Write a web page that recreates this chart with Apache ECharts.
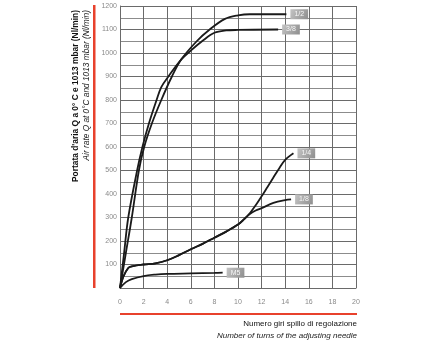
<!DOCTYPE html>
<html><head><meta charset="utf-8">
<script src="https://cdn.jsdelivr.net/npm/echarts@6/dist/echarts.min.js"></script>
<style>html,body{margin:0;padding:0;background:#fff}#c{width:441px;height:345px}</style>
</head><body><div id="c"></div>
<script>
// Tick labels
const xTicks = [0, 2, 4, 6, 8, 10, 12, 14, 16, 18, 20];
const yTicks = [100, 200, 300, 400, 500, 600, 700, 800, 900, 1000, 1100, 1200];

// Series: turns (x) and air rate Q (y)
const seriesNames = ['1/2', '3/8', '1/4', '1/8', 'M5'];

const turnsHalf = [0, 0.5, 1.0, 1.6, 2.05, 2.7, 3.5, 4.4, 5.2, 6.5, 7.6, 8.9, 10, 11, 14.1];
const qHalf     = [0, 150, 300, 500, 600, 700, 800, 900, 973, 1050, 1100, 1145, 1160, 1165, 1165];

const turns38 = [0, 0.35, 0.7, 1.45, 1.9, 2.45, 3.1, 3.5, 4.1, 5.2, 6.0, 7, 8, 9, 10, 13.4];
const q38     = [0, 150, 300, 500, 600, 700, 800, 855, 900, 973, 1010, 1052, 1086, 1096, 1098, 1100];

const turnsQuarter = [0, 0.3, 0.7, 1, 2, 3, 4, 5, 6, 7, 8, 9, 10, 10.5, 11, 11.5, 12, 12.5, 13, 13.5, 14, 14.7];
const qQuarter     = [0, 50, 85, 92, 100, 105, 118, 140, 165, 188, 214, 240, 270, 292, 318, 352, 390, 430, 470, 510, 545, 573];

const turnsEighth = [0, 0.3, 0.7, 1, 2, 3, 4, 5, 6, 7, 8, 9, 10, 10.5, 11, 11.5, 12, 13, 14, 14.5];
const qEighth     = [0, 50, 85, 92, 100, 105, 118, 140, 165, 188, 214, 240, 270, 292, 315, 330, 340, 362, 374, 377];

const turnsM5 = [0, 0.5, 1, 2, 3, 4, 6, 8, 8.7];
const qM5     = [0, 25, 38, 51, 57, 60, 62, 64, 65];

const xs = [turnsHalf, turns38, turnsQuarter, turnsEighth, turnsM5];
const ys = [qHalf, q38, qQuarter, qEighth, qM5];

const chart = echarts.init(document.getElementById('c'), null, {renderer: 'canvas'});
const gridColor = '#6a6a6a';
const red = '#e8412c';

const series = seriesNames.map((n, i) => ({
  name: n,
  type: 'line',
  smooth: 0.35,
  symbol: 'none',
  data: xs[i].map((x, j) => [x, ys[i][j]]),
  lineStyle: {color: '#1a1a1a', width: 1.8},
  endLabel: {
    show: true,
    formatter: '{a}',
    distance: 4,
    offset: [0, 0],
    fontSize: 7,
    fontFamily: 'Liberation Sans',
    color: '#f7f7f7',
    backgroundColor: new echarts.graphic.LinearGradient(0, 0, 1, 1, [
      {offset: 0, color: '#c4c4c4'}, {offset: 1, color: '#8e8e8e'}
    ]),
    padding: [2, 4, 1, 4]
  },
  z: 3
}));

chart.setOption({
  animation: false,
  grid: {left: 120, right: 85, top: 6, bottom: 57},
  xAxis: {
    type: 'value', min: 0, max: 20, interval: 2,
    axisLine: {show: true, lineStyle: {color: gridColor, width: 1}},
    axisTick: {show: false},
    axisLabel: {color: '#8a8a8a', fontSize: 7, fontFamily: 'Liberation Sans', margin: 11,
      formatter: v => xTicks.includes(v) ? String(v) : ''},
    splitLine: {show: true, lineStyle: {color: gridColor, width: 1}}
  },
  yAxis: {
    type: 'value', min: 0, max: 1200, interval: 100,
    axisLine: {show: true, lineStyle: {color: gridColor, width: 1}},
    axisTick: {show: false},
    axisLabel: {color: '#8a8a8a', fontSize: 7, fontFamily: 'Liberation Sans', margin: 3,
      formatter: v => yTicks.includes(v) ? String(v) : ''},
    splitLine: {show: true, lineStyle: {color: gridColor, width: 1}},
    minorTick: {show: false, splitNumber: 2},
    minorSplitLine: {show: true, lineStyle: {color: '#8c8c8c', width: 1}}
  },
  series: series,
  graphic: [
    {type: 'rect', shape: {x: 93, y: 5, width: 2.5, height: 283}, style: {fill: red}},
    {type: 'rect', shape: {x: 120, y: 313, width: 237, height: 2}, style: {fill: red}},
    {type: 'text', x: 76, y: 10, rotation: Math.PI / 2,
      style: {text: "Portata d'aria Q a 0° C e 1013 mbar (Nl/min)", font: 'bold 8.4px "Liberation Sans"', fill: '#111', align: 'right', verticalAlign: 'middle'}},
    {type: 'text', x: 87, y: 10, rotation: Math.PI / 2,
      style: {text: 'Air rate Q at 0°C and 1013 mbar (Nl/min)', font: 'italic 8.3px "Liberation Sans"', fill: '#222', align: 'right', verticalAlign: 'middle'}},
    {type: 'text', x: 357, y: 324,
      style: {text: 'Numero giri spillo di regolazione', font: '8px "Liberation Sans"', fill: '#111', align: 'right', verticalAlign: 'middle'}},
    {type: 'text', x: 357, y: 336,
      style: {text: 'Number of turns of the adjusting needle', font: 'italic 8px "Liberation Sans"', fill: '#222', align: 'right', verticalAlign: 'middle'}}
  ]
});
</script></body></html>
